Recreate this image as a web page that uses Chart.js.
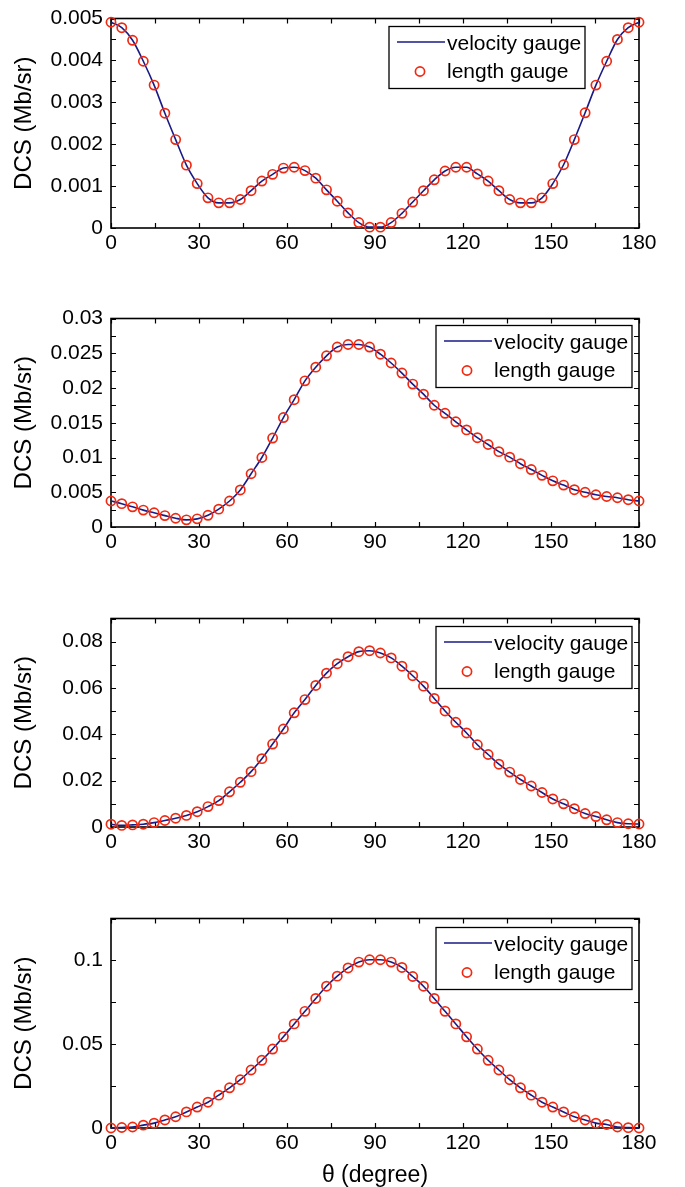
<!DOCTYPE html>
<html>
<head>
<meta charset="utf-8">
<script src="https://cdn.jsdelivr.net/npm/chart.js@4.4.0/dist/chart.umd.min.js"></script>
<style>
  html, body { margin: 0; padding: 0; background: #fff; }
  #wrap { position: relative; width: 685px; height: 1187px; overflow: hidden; }
  .panel { position: absolute; left: 0; }
</style>
</head>
<body>
<div id="wrap">
  <canvas id="c1" class="panel" style="top:0px" width="685" height="300"></canvas>
  <canvas id="c2" class="panel" style="top:300px" width="685" height="300"></canvas>
  <canvas id="c3" class="panel" style="top:600px" width="685" height="300"></canvas>
  <canvas id="c4" class="panel" style="top:900px" width="685" height="287"></canvas>
</div>
<script>
// angles (degree), 50 samples from 0 to 180
const theta = [
  0, 3.67, 7.35, 11.02, 14.69, 18.37, 22.04, 25.71, 29.39, 33.06,
  36.73, 40.41, 44.08, 47.76, 51.43, 55.10, 58.78, 62.45, 66.12, 69.80,
  73.47, 77.14, 80.82, 84.49, 88.16, 91.84, 95.51, 99.18, 102.86, 106.53,
  110.20, 113.88, 117.55, 121.22, 124.90, 128.57, 132.24, 135.92, 139.59, 143.27,
  146.94, 150.61, 154.29, 157.96, 161.63, 165.31, 168.98, 172.65, 176.33, 180
]

// DCS (Mb/sr)
const dcs1 = [
  0.00491, 0.00478, 0.00448, 0.00398, 0.00341, 0.00274, 0.00211, 0.00150, 0.00106, 0.00072,
  0.00060, 0.00060, 0.00068, 0.00089, 0.00112, 0.00128, 0.00143, 0.00145, 0.00137, 0.00119,
  0.00091, 0.00064, 0.00036, 0.00013, 0.00002, 0.00002, 0.00013, 0.00035, 0.00062, 0.00089,
  0.00115, 0.00136, 0.00145, 0.00145, 0.00129, 0.00112, 0.00089, 0.00068, 0.00060, 0.00060,
  0.00072, 0.00106, 0.00151, 0.00211, 0.00275, 0.00341, 0.00398, 0.00450, 0.00478, 0.00491
]
const dcs2 = [
  0.00374, 0.00336, 0.00290, 0.00243, 0.00205, 0.00164, 0.00126, 0.00103, 0.00117, 0.00168,
  0.00257, 0.00374, 0.00533, 0.00766, 0.01000, 0.01280, 0.01575, 0.01832, 0.02103, 0.02300,
  0.02463, 0.02589, 0.02626, 0.02626, 0.02589, 0.02486, 0.02360, 0.02215, 0.02056, 0.01911,
  0.01752, 0.01636, 0.01514, 0.01397, 0.01285, 0.01187, 0.01084, 0.01005, 0.00911, 0.00827,
  0.00743, 0.00664, 0.00603, 0.00537, 0.00500, 0.00463, 0.00439, 0.00421, 0.00393, 0.00374
]
const dcs3 = [
  0.0012, 0.0007, 0.0009, 0.0012, 0.0019, 0.0028, 0.0038, 0.0050, 0.0066, 0.0088,
  0.0114, 0.0152, 0.0193, 0.0239, 0.0295, 0.0358, 0.0423, 0.0493, 0.0550, 0.0611,
  0.0664, 0.0705, 0.0735, 0.0757, 0.0761, 0.0751, 0.0730, 0.0694, 0.0653, 0.0608,
  0.0555, 0.0501, 0.0452, 0.0406, 0.0355, 0.0313, 0.0271, 0.0237, 0.0205, 0.0177,
  0.0149, 0.0121, 0.0100, 0.0079, 0.0058, 0.0045, 0.0031, 0.0019, 0.0014, 0.0013
]
const dcs4 = [
  0.0000, 0.0003, 0.0006, 0.0017, 0.0029, 0.0048, 0.0067, 0.0096, 0.0125, 0.0154,
  0.0196, 0.0240, 0.0288, 0.0346, 0.0404, 0.0471, 0.0544, 0.0621, 0.0696, 0.0773,
  0.0846, 0.0906, 0.0955, 0.0990, 0.1004, 0.1004, 0.0990, 0.0958, 0.0904, 0.0846,
  0.0773, 0.0696, 0.0621, 0.0544, 0.0471, 0.0404, 0.0346, 0.0288, 0.0240, 0.0196,
  0.0154, 0.0125, 0.0096, 0.0067, 0.0048, 0.0029, 0.0021, 0.0006, 0.0002, 0.0000
]

// axis ranges and tick steps (minor step, labelled step)
const yMax = [0.005, 0.03, 0.09, 0.125]
const yStep = [0.0005, 0.0025, 0.01, 0.025]
const yLabelStep = [0.001, 0.005, 0.02, 0.05]
const xTickStep = 15
const xLabelStep = 30

const seriesNames = ['velocity gauge', 'length gauge']
const NAVY = '#1a1a86'
const RED = '#f02a12'
const FAMILY = '"Liberation Sans", Arial, Helvetica, sans-serif'
const TICK_FONT = { family: FAMILY, size: 21, lineHeight: 1 }
const TITLE_FONT = { family: FAMILY, size: 24, lineHeight: 1.2 }

Chart.defaults.color = '#000'

// box round the plot area plus inward tick marks on all four sides
const frameTicks = {
  id: 'frameTicks',
  beforeDatasetsDraw(chart) {
    const { ctx, chartArea: a, scales: { x, y } } = chart
    const len = 5
    ctx.save()
    ctx.strokeStyle = '#000'
    ctx.lineWidth = 1.2
    ctx.beginPath()
    x.ticks.forEach(t => {
      const px = Math.round(x.getPixelForValue(t.value)) + 0.5
      ctx.moveTo(px, a.bottom); ctx.lineTo(px, a.bottom - len)
      ctx.moveTo(px, a.top); ctx.lineTo(px, a.top + len)
    })
    y.ticks.forEach(t => {
      const py = Math.round(y.getPixelForValue(t.value)) + 0.5
      ctx.moveTo(a.left, py); ctx.lineTo(a.left + len, py)
      ctx.moveTo(a.right, py); ctx.lineTo(a.right - len, py)
    })
    ctx.stroke()
    ctx.lineWidth = 1.6
    ctx.strokeRect(a.left, a.top, a.right - a.left, a.bottom - a.top)
    ctx.restore()
  }
}

// matlab style legend box in the upper right corner
const gaugeLegend = {
  id: 'gaugeLegend',
  afterDatasetsDraw(chart, args, opts) {
    const { ctx, chartArea: a } = chart
    const line = chart.data.datasets[0]
    const dots = chart.data.datasets[1]
    const w = 196, h = 62
    const bx = a.right - opts.right - w
    const by = a.top + opts.top
    ctx.save()
    ctx.fillStyle = '#fff'
    ctx.fillRect(bx, by, w, h)
    ctx.strokeStyle = '#000'
    ctx.lineWidth = 1.3
    ctx.strokeRect(bx, by, w, h)

    ctx.strokeStyle = line.borderColor
    ctx.lineWidth = line.borderWidth
    ctx.beginPath()
    ctx.moveTo(bx + 8, by + 15.5)
    ctx.lineTo(bx + 56, by + 15.5)
    ctx.stroke()

    ctx.strokeStyle = dots.pointBorderColor
    ctx.lineWidth = dots.pointBorderWidth
    ctx.beginPath()
    ctx.arc(bx + 31, by + 45, dots.pointRadius, 0, Math.PI * 2)
    ctx.stroke()

    ctx.fillStyle = '#000'
    ctx.font = TICK_FONT.size + 'px ' + TICK_FONT.family
    ctx.textBaseline = 'middle'
    ctx.fillText(line.label, bx + 58, by + 18)
    ctx.fillText(dots.label, bx + 58, by + 46)
    ctx.restore()
  }
}

function fmt(v) {
  return String(Number(v.toFixed(5)))
}

function makeChart(id, values, k, pad, xh, legend, xTitle) {
  const pts = theta.map((t, i) => ({ x: t, y: values[i] }))
  return new Chart(document.getElementById(id), {
    type: 'scatter',
    data: {
      datasets: [
        {
          label: seriesNames[0],
          data: pts,
          showLine: true,
          borderColor: NAVY,
          borderWidth: 1.6,
          pointRadius: 0,
          cubicInterpolationMode: 'monotone',
          clip: false,
          order: 2,
        },
        {
          label: seriesNames[1],
          data: pts,
          showLine: false,
          pointStyle: 'circle',
          pointRadius: 4.6,
          pointBorderWidth: 1.7,
          pointBorderColor: RED,
          pointBackgroundColor: 'rgba(0,0,0,0)',
          clip: false,
          order: 1,
        },
      ],
    },
    options: {
      responsive: false,
      animation: false,
      layout: { padding: { left: 0, right: 46, top: 13, bottom: pad } },
      plugins: {
        legend: { display: false },
        tooltip: { enabled: false },
        gaugeLegend: legend,
      },
      scales: {
        x: {
          type: 'linear',
          min: 0,
          max: 180,
          afterFit: s => { s.height = xh },
          grid: { display: false, drawTicks: false },
          border: { display: false },
          ticks: {
            stepSize: xTickStep,
            autoSkip: false,
            maxRotation: 0,
            padding: 5,
            font: TICK_FONT,
            callback: v => (v % xLabelStep === 0 ? String(v) : ''),
          },
          title: {
            display: xTitle,
            text: 'θ (degree)',
            font: { family: FAMILY, size: 23, lineHeight: 1 },
            padding: { top: 0, bottom: 0 },
          },
        },
        y: {
          type: 'linear',
          min: 0,
          max: yMax[k],
          afterFit: s => { s.width = 111 },
          grid: { display: false, drawTicks: false },
          border: { display: false },
          ticks: {
            stepSize: yStep[k],
            autoSkip: false,
            padding: 8,
            font: TICK_FONT,
            callback: v => {
              const r = v / yLabelStep[k]
              return Math.abs(r - Math.round(r)) < 1e-6 ? fmt(v) : ''
            },
          },
          title: {
            display: true,
            text: 'DCS (Mb/sr)',
            font: TITLE_FONT,
            padding: { top: 10, bottom: 0 },
          },
        },
      },
    },
    plugins: [frameTicks, gaugeLegend],
  })
}

makeChart('c1', dcs1, 0, 32, 40, { right: 54, top: 8 }, false)
makeChart('c2', dcs2, 1, 33, 40, { right: 7, top: 7 }, false)
makeChart('c3', dcs3, 2, 33, 40, { right: 7, top: 8 }, false)
makeChart('c4', dcs4, 3, 0, 59, { right: 7, top: 9 }, true)
</script>
</body>
</html>
